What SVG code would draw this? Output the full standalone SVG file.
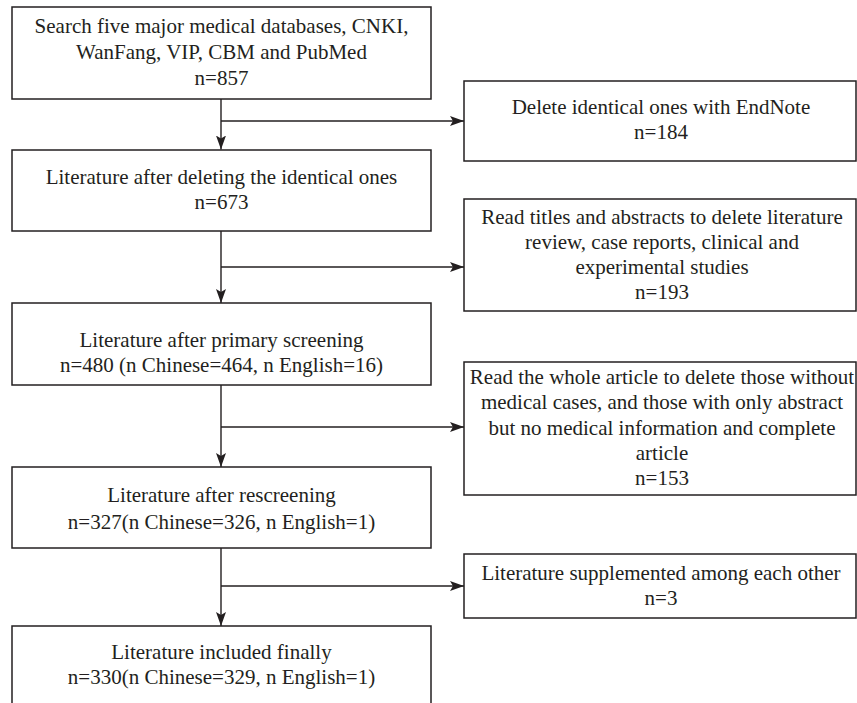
<svg xmlns="http://www.w3.org/2000/svg" width="857" height="703" viewBox="0 0 857 703">
<style>
.box{fill:#fff;stroke:#231f20;stroke-width:1.5}
.t{font-family:"Liberation Serif","Times New Roman",serif;font-size:21px;fill:#231f20;text-anchor:middle}
.ln{fill:none;stroke:#231f20;stroke-width:1.4}
</style>
<defs>
<marker id="ah" markerWidth="14" markerHeight="10" viewBox="0 0 14 10" refX="14" refY="5" orient="auto" markerUnits="userSpaceOnUse">
<path d="M0,0 L14,5 L0,10 L3,5 Z" fill="#231f20"/>
</marker>
</defs>
<rect width="857" height="703" fill="#fff"/>
<g id="connectors">
<path class="ln" d="M221,99 V149.5" marker-end="url(#ah)"/>
<path class="ln" d="M221,121 H464" marker-end="url(#ah)"/>
<path class="ln" d="M221,231 V303" marker-end="url(#ah)"/>
<path class="ln" d="M221,267 H464" marker-end="url(#ah)"/>
<path class="ln" d="M221,385 V467" marker-end="url(#ah)"/>
<path class="ln" d="M221,427 H464" marker-end="url(#ah)"/>
<path class="ln" d="M221,548 V626" marker-end="url(#ah)"/>
<path class="ln" d="M221,586 H464" marker-end="url(#ah)"/>
</g>
<g id="n1">
<rect class="box" x="12" y="7" width="419" height="92"/>
<text class="t" x="221.5" y="33">Search five major medical databases, CNKI,</text>
<text class="t" x="221.5" y="59">WanFang, VIP, CBM and PubMed</text>
<text class="t" x="221.5" y="85">n=857</text>
</g>
<g id="n2">
<rect class="box" x="464" y="81" width="392" height="80"/>
<text class="t" x="661" y="114">Delete identical ones with EndNote</text>
<text class="t" x="661" y="139">n=184</text>
</g>
<g id="n3">
<rect class="box" x="12" y="150" width="419" height="81"/>
<text class="t" x="221.5" y="184">Literature after deleting the identical ones</text>
<text class="t" x="221.5" y="209">n=673</text>
</g>
<g id="n4">
<rect class="box" x="464" y="199" width="392" height="112"/>
<text class="t" x="662" y="224">Read titles and abstracts to delete literature</text>
<text class="t" x="662" y="249">review, case reports, clinical and</text>
<text class="t" x="662" y="274">experimental studies</text>
<text class="t" x="662" y="299">n=193</text>
</g>
<g id="n5">
<rect class="box" x="12" y="303" width="419" height="82"/>
<text class="t" x="221.5" y="347">Literature after primary screening</text>
<text class="t" x="221.5" y="372">n=480 (n Chinese=464, n English=16)</text>
</g>
<g id="n6">
<rect class="box" x="464" y="362" width="392" height="133"/>
<text class="t" x="662" y="384">Read the whole article to delete those without</text>
<text class="t" x="662" y="409">medical cases, and those with only abstract</text>
<text class="t" x="662" y="435">but no medical information and complete</text>
<text class="t" x="662" y="460">article</text>
<text class="t" x="662" y="485">n=153</text>
</g>
<g id="n7">
<rect class="box" x="12" y="467" width="419" height="81"/>
<text class="t" x="221.5" y="502">Literature after rescreening</text>
<text class="t" x="221.5" y="529">n=327(n Chinese=326, n English=1)</text>
</g>
<g id="n8">
<rect class="box" x="464" y="554" width="392" height="64"/>
<text class="t" x="661" y="580">Literature supplemented among each other</text>
<text class="t" x="661" y="605">n=3</text>
</g>
<g id="n9">
<rect class="box" x="12" y="626" width="419" height="90"/>
<text class="t" x="221.5" y="659">Literature included finally</text>
<text class="t" x="221.5" y="684">n=330(n Chinese=329, n English=1)</text>
</g>
</svg>
